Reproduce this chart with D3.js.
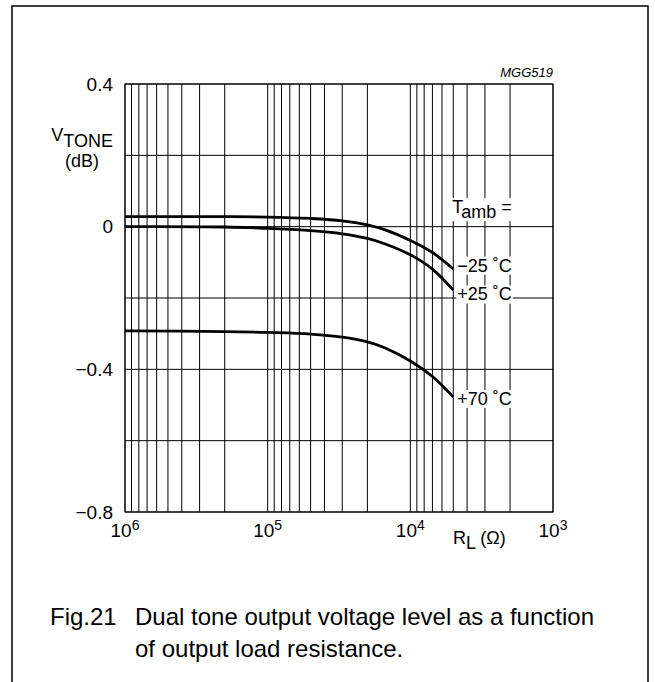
<!DOCTYPE html>
<html>
<head>
<meta charset="utf-8">
<script src="https://cdn.jsdelivr.net/npm/d3@7/dist/d3.min.js"></script>
<style>
html,body{margin:0;padding:0;background:#fff;}
svg{display:block;font-family:"Liberation Sans",Arial,Helvetica,sans-serif;}
</style>
</head>
<body>
<svg id="chart" width="655" height="682"></svg>
<script>
// ---- data ----
const xDomain = [1e6, 1e3];
const yDomain = [-0.8, 0.4];
const xTickValues = [1e6, 1e5, 1e4, 1e3];
const xTickExponents = ["6", "5", "4", "3"];
const yTickValues = [0.4, 0, -0.4, -0.8];
const yTickLabels = ["0.4", "0", "\u22120.4", "\u22120.8"];
const yGridValues = [0.4, 0.2, 0, -0.2, -0.4, -0.6, -0.8];

const loadR = [1e6, 2e5, 1e5, 5e4, 3e4, 2e4, 1.5e4, 1e4, 7e3, 5e3];
const vMinus25 = [0.028, 0.028, 0.027, 0.023, 0.0165, 0.005, -0.009, -0.0387, -0.0725, -0.1186];
const vPlus25  = [0.0, -0.001, -0.005, -0.011, -0.020, -0.033, -0.0485, -0.079, -0.119, -0.178];
const vPlus70  = [-0.2924, -0.294, -0.2966, -0.301, -0.3095, -0.323, -0.340, -0.3765, -0.420, -0.4774];
const seriesNames = ["\u221225 \u02DAC", "+25 \u02DAC", "+70 \u02DAC"];
const seriesLabelY = [-0.126, -0.207, -0.5];

// ---- layout ----
const svg = d3.select("#chart");
const x = d3.scaleLog().domain(xDomain).range([125, 553]);
const y = d3.scaleLinear().domain(yDomain).range([512, 84]);

// frame
svg.append("rect").attr("x", 12).attr("y", 6).attr("width", 636).attr("height", 700)
  .attr("fill", "none").attr("stroke", "#000").attr("stroke-width", 1.5);

const g = svg.append("g");

// vertical grid (all log ticks)
g.selectAll("line.vg").data(x.ticks()).join("line").attr("class", "vg")
  .attr("x1", d => x(d)).attr("x2", d => x(d))
  .attr("y1", y(yDomain[1])).attr("y2", y(yDomain[0]))
  .attr("stroke", "#000").attr("stroke-width", 1);

// horizontal grid
g.selectAll("line.hg").data(yGridValues).join("line").attr("class", "hg")
  .attr("x1", x(xDomain[0])).attr("x2", x(xDomain[1]))
  .attr("y1", d => y(d)).attr("y2", d => y(d))
  .attr("stroke", "#000").attr("stroke-width", 1);

// border of plot
g.append("rect").attr("x", x(xDomain[0])).attr("y", y(yDomain[1]))
  .attr("width", x(xDomain[1]) - x(xDomain[0])).attr("height", y(yDomain[0]) - y(yDomain[1]))
  .attr("fill", "none").attr("stroke", "#000").attr("stroke-width", 1);

// curves
const line = d3.line().x(d => x(d[0])).y(d => y(d[1])).curve(d3.curveCatmullRom.alpha(0.5));
[vMinus25, vPlus25, vPlus70].forEach(vals => {
  g.append("path").datum(loadR.map((r, i) => [r, vals[i]]))
    .attr("d", line).attr("fill", "none").attr("stroke", "#000").attr("stroke-width", 2.8);
});

// helper: white background behind a text
function labelBg(sel, pad) {
  const b = sel.node().getBBox();
  g.insert("rect", () => sel.node())
    .attr("x", b.x - pad).attr("y", b.y + 1).attr("width", b.width + 2 * pad).attr("height", b.height - 2)
    .attr("fill", "#fff");
}

// series labels
const lx = x(loadR[loadR.length - 1]) + 4;
seriesNames.forEach((name, i) => {
  const t = g.append("text").attr("x", lx).attr("y", y(seriesLabelY[i]))
    .attr("font-size", 18).text(name);
  labelBg(t, 1);
});

// Tamb =
const tamb = g.append("text").attr("x", lx - 5).attr("y", y(0.038)).attr("font-size", 18);
tamb.append("tspan").text("T");
tamb.append("tspan").attr("dy", 5).text("amb");
tamb.append("tspan").attr("dy", -5).text(" =");
labelBg(tamb, 1);

// y tick labels
svg.selectAll("text.yt").data(yTickValues).join("text").attr("class", "yt")
  .attr("x", 113).attr("y", d => y(d)).attr("dy", "0.35em")
  .attr("text-anchor", "end").attr("font-size", 19)
  .text((d, i) => yTickLabels[i]);

// x tick labels
xTickValues.forEach((v, i) => {
  const t = svg.append("text").attr("x", x(v)).attr("y", 537)
    .attr("text-anchor", "middle").attr("font-size", 19);
  t.append("tspan").text("10");
  t.append("tspan").attr("dy", -7).attr("font-size", 14).text(xTickExponents[i]);
});

// axis titles
const yt = svg.append("text").attr("x", 113).attr("y", 141).attr("text-anchor", "end").attr("font-size", 18);
yt.append("tspan").text("V");
yt.append("tspan").attr("dy", 6).text("TONE");
svg.append("text").attr("x", 82).attr("y", 167).attr("text-anchor", "middle").attr("font-size", 18).text("(dB)");

const xt = svg.append("text").attr("x", 453).attr("y", 544).attr("font-size", 18);
xt.append("tspan").text("R");
xt.append("tspan").attr("dy", 5).text("L");
xt.append("tspan").attr("dy", -5).text(" (\u03A9)");

// figure code
svg.append("text").attr("x", 553).attr("y", 77).attr("text-anchor", "end")
  .attr("font-size", 13).attr("font-style", "italic").text("MGG519");

// caption
svg.append("text").attr("x", 50).attr("y", 625).attr("font-size", 24).text("Fig.21");
svg.append("text").attr("x", 135).attr("y", 625).attr("font-size", 24)
  .text("Dual tone output voltage level as a function");
svg.append("text").attr("x", 135).attr("y", 657).attr("font-size", 24)
  .text("of output load resistance.");
</script>
</body>
</html>
